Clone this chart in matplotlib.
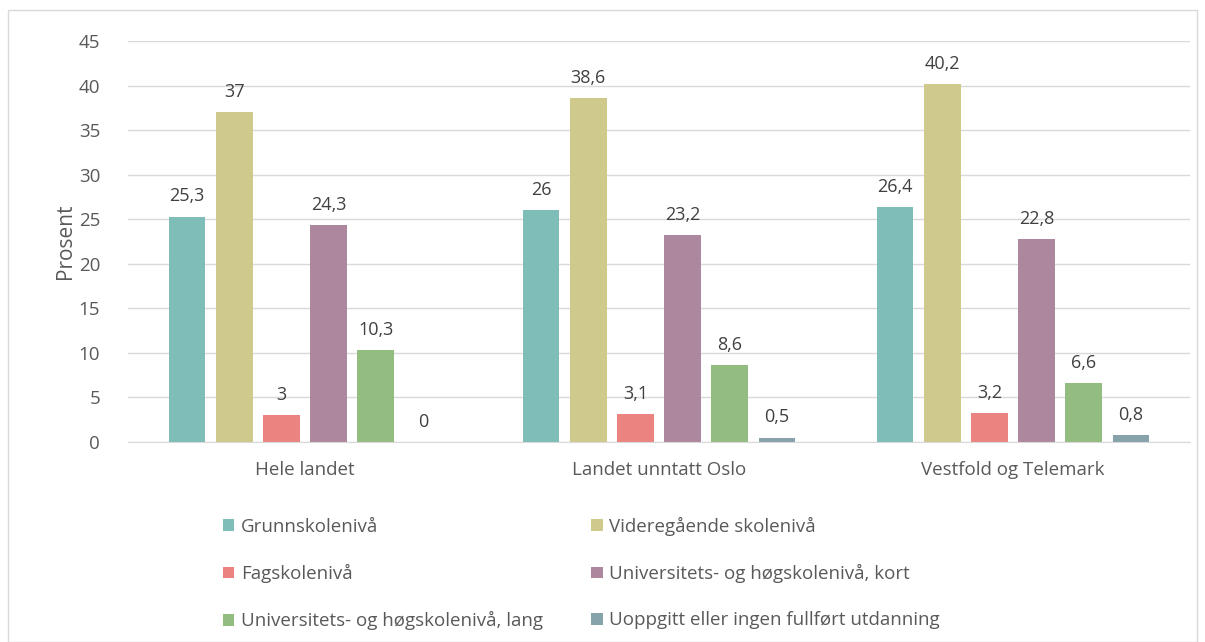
import numpy as np
import matplotlib.pyplot as plt
from matplotlib.patches import Rectangle

plt.rcParams['font.family'] = ['Open Sans', 'DejaVu Sans']

regions = ["Hele landet", "Landet unntatt Oslo", "Vestfold og Telemark"]
levels = ["Grunnskolenivå", "Videregående skolenivå", "Fagskolenivå",
          "Universitets- og høgskolenivå, kort", "Universitets- og høgskolenivå, lang",
          "Uoppgitt eller ingen fullført utdanning"]
grunn = [25.3, 26, 26.4]
vgs = [37, 38.6, 40.2]
fag = [3, 3.1, 3.2]
uni_kort = [24.3, 23.2, 22.8]
uni_lang = [10.3, 8.6, 6.6]
uoppgitt = [0, 0.5, 0.8]
colors = ["#7fbdb8", "#cfc98b", "#eb8480", "#ac879d", "#93bc80", "#86a3ac"]

series = [grunn, vgs, fag, uni_kort, uni_lang, uoppgitt]

fig = plt.figure(figsize=(12.05, 6.42), dpi=100)
fig.patches.append(Rectangle((8 / 1205, 0.0), 1 - 16 / 1205, 1 - 10 / 642,
                             transform=fig.transFigure, fill=False,
                             edgecolor='#d9d9d9', lw=1))
ax = fig.add_axes([128 / 1205, 1 - 442 / 642, (1190 - 128) / 1205, (442 - 41) / 642])

x = np.arange(len(regions))
step = 0.8 / 6
bw = 0.104
for i, (vals, c) in enumerate(zip(series, colors)):
    pos = x - 0.4 + step * (i + 0.5)
    ax.bar(pos, vals, bw, color=c, label=levels[i], zorder=2)
    for p, v in zip(pos, vals):
        txt = ('%g' % v).replace('.', ',')
        ax.annotate(txt, (p, v), xytext=(0, 8), textcoords='offset points',
                    ha='center', va='bottom', fontsize=13, color='#404040')

ax.set_xlim(-0.5, 2.5)
ax.set_ylim(0, 45)
ax.set_yticks(range(0, 46, 5))
ax.yaxis.grid(True, color='#d9d9d9', lw=1, zorder=0)
ax.set_axisbelow(True)
for s in ['top', 'right', 'left']:
    ax.spines[s].set_visible(False)
ax.spines['bottom'].set_color('#d9d9d9')
ax.tick_params(axis='both', length=0, labelsize=13.5, colors='#595959')
ax.tick_params(axis='x', pad=14)
ax.tick_params(axis='y', pad=20)
ax.set_xticks(x)
ax.set_xticklabels(regions)
ax.set_ylabel('Prosent', fontsize=15, color='#595959', labelpad=2)

# legend, 3 rows x 2 columns
handles, labels = ax.get_legend_handles_labels()
order = [0, 2, 4, 1, 3, 5]
fig.legend([handles[k] for k in order], [labels[k] for k in order],
           loc='upper left', bbox_to_anchor=(206 / 1205, 1 - 500 / 642),
           ncol=2, frameon=False, fontsize=13.5, labelcolor='#595959',
           handlelength=0.6, handleheight=0.6, handletextpad=0.35,
           columnspacing=2.6, labelspacing=1.5)

fig.savefig('out.png', dpi=100)
